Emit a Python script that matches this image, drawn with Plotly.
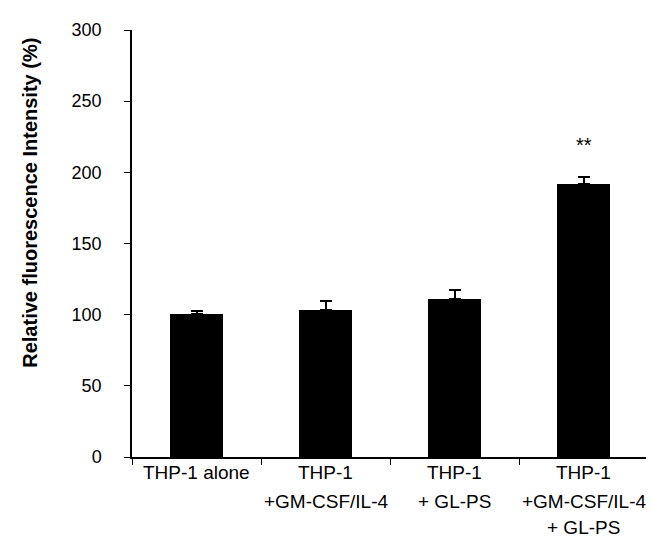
import plotly.graph_objects as go

categories = ["THP-1 alone", "THP-1<br>+GM-CSF/IL-4", "THP-1<br>+ GL-PS", "THP-1<br>+GM-CSF/IL-4<br>+ GL-PS"]
values = [100.5, 103.3, 111.2, 191.6]
errors = [2.2, 6.2, 6.2, 5.0]
significance = ["", "", "", "**"]
star_y = [None, None, None, 219]
y_ticks = [0, 50, 100, 150, 200, 250, 300]

FONT = "Liberation Sans, Arial, sans-serif"

fig = go.Figure()
fig.add_trace(go.Bar(
    x=categories, y=values, width=0.41,
    marker=dict(color="black", line=dict(color="black", width=0)),
    error_y=dict(type="data", array=errors, arrayminus=[0] * len(errors),
                 symmetric=False, color="black", thickness=2, width=6),
    showlegend=False,
))

annotations = []
line_centers = [-0.036, -0.105, -0.166]
for cat in categories:
    for i, line in enumerate(cat.split("<br>")):
        annotations.append(dict(
            x=cat, xref="x", y=line_centers[i], yref="paper",
            text=line, showarrow=False, yanchor="middle", xanchor="center",
            font=dict(family=FONT, size=19, color="black"),
        ))
for cat, s, sy in zip(categories, significance, star_y):
    if s:
        annotations.append(dict(
            x=cat, y=sy, xref="x", yref="y", text=s, showarrow=False,
            font=dict(family=FONT, size=20, color="black"),
        ))
annotations.append(dict(
    x=-0.198, y=0.595, xref="paper", yref="paper",
    text="<b>Relative fluorescence Intensity (%)</b>", textangle=-90,
    showarrow=False, xanchor="center", yanchor="middle",
    font=dict(family=FONT, size=20, color="black"),
))

fig.update_layout(
    width=654, height=539,
    margin=dict(l=124, r=14, t=22, b=90),
    plot_bgcolor="white", paper_bgcolor="white",
    font=dict(family=FONT, color="black"),
    annotations=annotations,
    bargap=0,
)
fig.update_xaxes(
    type="category", showticklabels=False, showline=True, linecolor="black",
    linewidth=1.5, ticks="outside", tickson="boundaries", ticklen=6,
    tickcolor="black", showgrid=False, zeroline=False,
)
fig.update_yaxes(
    range=[0, 300], tickvals=y_ticks, showline=True, linecolor="black",
    linewidth=1.5, ticks="outside", ticklen=6, tickcolor="black",
    showgrid=False, zeroline=False, ticklabelstandoff=19,
    tickfont=dict(family=FONT, size=18, color="black"),
)

fig.write_html("out.html")
